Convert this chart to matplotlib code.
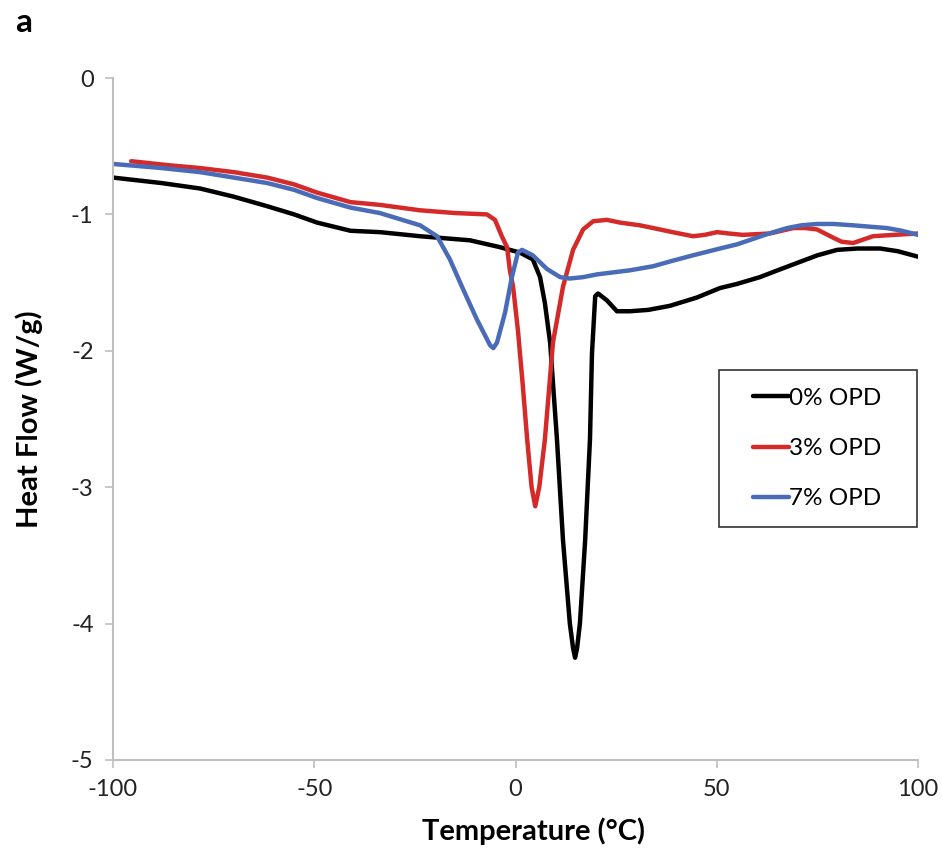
import matplotlib.pyplot as plt
from matplotlib.patches import Rectangle

plt.rcParams['font.family'] = ['Lato', 'DejaVu Sans']
plt.rcParams['axes.unicode_minus'] = False

# 0% OPD
t0 = [-100, -88, -78.4, -70, -61.7, -55, -49.3, -41, -33.7, -23.7, -11.3, -3.9, 1.1,
      4.3, 6.1, 7.3, 8.6, 10.3, 11.8, 13.5, 14.3, 14.8, 15.3, 16.0, 17.3, 18.5, 19.0,
      19.8, 20.5, 22.7, 25.2, 28.4, 33, 38.4, 45, 50.8, 55, 60.7, 66, 71.4, 75,
      79.9, 85, 90.6, 95, 100]
hf0 = [-0.73, -0.77, -0.81, -0.87, -0.94, -1.00, -1.06, -1.12, -1.13, -1.16, -1.19, -1.24, -1.28,
       -1.33, -1.46, -1.65, -1.94, -2.65, -3.39, -4.00, -4.18, -4.25, -4.18, -4.00, -3.39, -2.65, -2.02,
       -1.60, -1.58, -1.63, -1.71, -1.71, -1.70, -1.67, -1.61, -1.54, -1.51, -1.46, -1.40, -1.34, -1.30,
       -1.26, -1.25, -1.25, -1.27, -1.31]

# 3% OPD
t3 = [-95.5, -86, -78.4, -70, -61.7, -55, -49.3, -41, -33.7, -23.7, -15, -7.1, -5.1,
      -3.4, -2.1, -1.4, -0.6, 0.6, 1.8, 2.9, 4.0, 4.9, 5.9, 7.3, 9.3, 11.8, 14.3,
      16.8, 19.3, 22.7, 26, 30.9, 34.2, 39, 44.1, 47, 50.1, 53, 56.5, 63.2, 69, 72,
      74.9, 78.9, 81, 83.9, 88.8, 94, 100]
hf3 = [-0.61, -0.64, -0.66, -0.69, -0.73, -0.78, -0.84, -0.91, -0.93, -0.97, -0.99, -1.00, -1.04,
       -1.16, -1.24, -1.41, -1.53, -1.85, -2.25, -2.65, -3.00, -3.14, -3.00, -2.65, -1.94, -1.53, -1.26,
       -1.11, -1.05, -1.04, -1.06, -1.08, -1.10, -1.13, -1.16, -1.15, -1.13, -1.14, -1.15, -1.14, -1.10, -1.10,
       -1.11, -1.17, -1.20, -1.21, -1.16, -1.15, -1.14]

# 7% OPD
t7 = [-100, -88, -78.4, -70, -61.7, -55, -49.3, -41, -33.7, -23.7, -19.5, -16.3, -13.0,
      -9.6, -6.3, -5.5, -4.6, -2.6, -0.9, 0.6, 1.6, 4.3, 7.8, 11.1, 13.5, 16.8,
      20.2, 28.4, 34.2, 39, 44.1, 50.8, 55, 59, 63, 67.5, 71, 74.9, 79, 83.9,
      88, 92.3, 96, 100]
hf7 = [-0.63, -0.66, -0.69, -0.73, -0.77, -0.82, -0.88, -0.95, -0.99, -1.08, -1.16, -1.33, -1.55,
       -1.77, -1.96, -1.98, -1.94, -1.72, -1.46, -1.28, -1.26, -1.30, -1.40, -1.46, -1.47, -1.46,
       -1.44, -1.41, -1.38, -1.34, -1.30, -1.25, -1.22, -1.18, -1.14, -1.10, -1.08, -1.07, -1.07, -1.08,
       -1.09, -1.10, -1.12, -1.15]

series = [(t0, hf0, '0% OPD', 'black'),
          (t3, hf3, '3% OPD', '#d42a2a'),
          (t7, hf7, '7% OPD', '#4a6cb8')]

fig = plt.figure(figsize=(9.42, 8.48), dpi=100)
ax = fig.add_axes([0.12, 0.1038, 0.8545, 0.8042])

for t, hf, name, col in series:
    ax.plot(t, hf, color=col, lw=3.2, label=name, solid_joinstyle='round', solid_capstyle='round')

ax.set_xlim(-100, 100)
ax.set_ylim(-5, 0)
ax.set_xticks([-100, -50, 0, 50, 100])
ax.set_yticks([0, -1, -2, -3, -4, -5])
for s in ['top', 'right']:
    ax.spines[s].set_visible(False)
for s in ['left', 'bottom']:
    ax.spines[s].set_color('#bfbfbf')
    ax.spines[s].set_linewidth(1.5)
ax.tick_params(direction='out', length=6, width=1.2, color='#bfbfbf',
               labelsize=17, labelcolor='#222222', pad=8)

ax.set_xlabel('Temperature (°C)', fontsize=21, fontweight='bold')
ax.xaxis.set_label_coords(0.522, -0.084)
ax.set_ylabel('Heat Flow (W/g)', fontsize=21, fontweight='bold', labelpad=20)

# legend box drawn separately so padding matches
ax.add_patch(Rectangle((0.7528, 0.3416), 0.246, 0.2302, transform=ax.transAxes,
                       fill=False, edgecolor='#333333', lw=1.2, clip_on=False, zorder=5))
leg = ax.legend(loc='center', bbox_to_anchor=(0.875, 0.4567), fontsize=17.5,
                frameon=False, handlelength=1.5, handletextpad=0.0,
                labelspacing=1.2, borderpad=0.2, borderaxespad=0)

fig.text(0.016, 0.962, 'a', fontsize=24, fontweight='bold')

fig.savefig('out.png', dpi=100)
